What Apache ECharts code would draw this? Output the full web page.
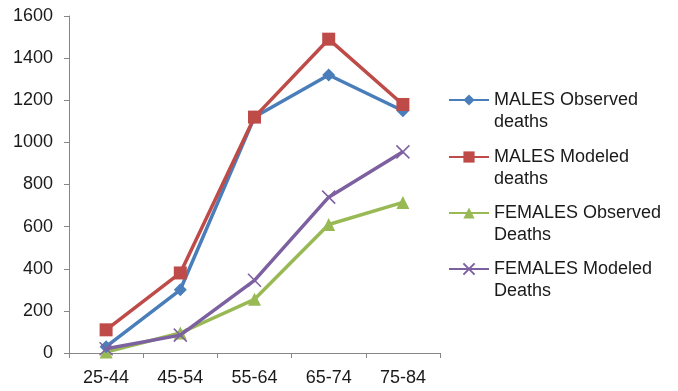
<!DOCTYPE html>
<html>
<head>
<meta charset="utf-8">
<script src="https://cdn.jsdelivr.net/npm/echarts@6/dist/echarts.min.js"></script>
<style>
  html, body { margin: 0; padding: 0; background: #ffffff; }
  #chart { width: 678px; height: 391px; }
</style>
</head>
<body>
<div id="chart"></div>
<script>
// Age groups on the category axis
const ageGroups = ['25-44', '45-54', '55-64', '65-74', '75-84'];

// Deaths by age group
const malesObserved   = [30, 300, 1120, 1320, 1150];
const malesModeled    = [110, 380, 1120, 1490, 1180];
const femalesObserved = [5, 95, 255, 610, 715];
const femalesModeled  = [20, 85, 345, 740, 955];

const seriesNames = [
  'MALES Observed\ndeaths',
  'MALES Modeled\ndeaths',
  'FEMALES Observed\nDeaths',
  'FEMALES Modeled\nDeaths'
];

const FONT = '"Liberation Sans", Arial, Helvetica, sans-serif';
const colors = ['#4a7ebb', '#be4b48', '#98b954', '#7d60a0'];
const symbols = ['diamond', 'rect', 'triangle',
  'path://M0,0 L1,1 M1,0 L0,1'];
const symbolSizes = [13, 13, 13, 13];

const chart = echarts.init(document.getElementById('chart'));

// One legend block per series so each entry can be placed on its own;
// a leading blank line keeps the marker level with the first text line.
const legendTops = [67, 124, 180, 236];
const legends = seriesNames.map((name, i) => ({
  data: [name],
  orient: 'vertical',
  left: 448,
  top: legendTops[i],
  padding: 0,
  itemWidth: 40,
  itemHeight: 14,
  itemGap: 5,
  formatter: n => '\n' + n,
  textStyle: {
    fontFamily: FONT,
    fontSize: 18,
    color: '#1a1a1a',
    lineHeight: 22
  }
}));

const data = [malesObserved, malesModeled, femalesObserved, femalesModeled];

chart.setOption({
  animation: false,
  color: colors,
  grid: { left: 69, right: 238, top: 16, bottom: 38, containLabel: false },
  legend: legends,
  xAxis: {
    type: 'category',
    data: ageGroups,
    boundaryGap: true,
    axisLine: { lineStyle: { color: '#868686', width: 1 } },
    axisTick: { show: true, length: 5, lineStyle: { color: '#868686' } },
    axisLabel: { fontFamily: FONT, fontSize: 18, color: '#1a1a1a', margin: 16 }
  },
  yAxis: {
    type: 'value',
    min: 0,
    max: 1600,
    interval: 200,
    axisLine: { show: true, lineStyle: { color: '#868686', width: 1 } },
    axisTick: { show: true, length: 5, lineStyle: { color: '#868686' } },
    splitLine: { show: false },
    axisLabel: {
      fontFamily: FONT, fontSize: 18, color: '#1a1a1a', margin: 16,
      formatter: v => String(v)
    }
  },
  series: data.map((values, i) => ({
    name: seriesNames[i],
    type: 'line',
    data: values,
    symbol: symbols[i],
    symbolSize: symbolSizes[i],
    showAllSymbol: true,
    lineStyle: { width: 3.5, color: colors[i] },
    itemStyle: i === 3
      ? { color: 'none', borderColor: colors[i], borderWidth: 1.5 }
      : { color: colors[i], borderWidth: 0 },
    z: [3, 4, 2, 5][i]
  }))
});
</script>
</body>
</html>
